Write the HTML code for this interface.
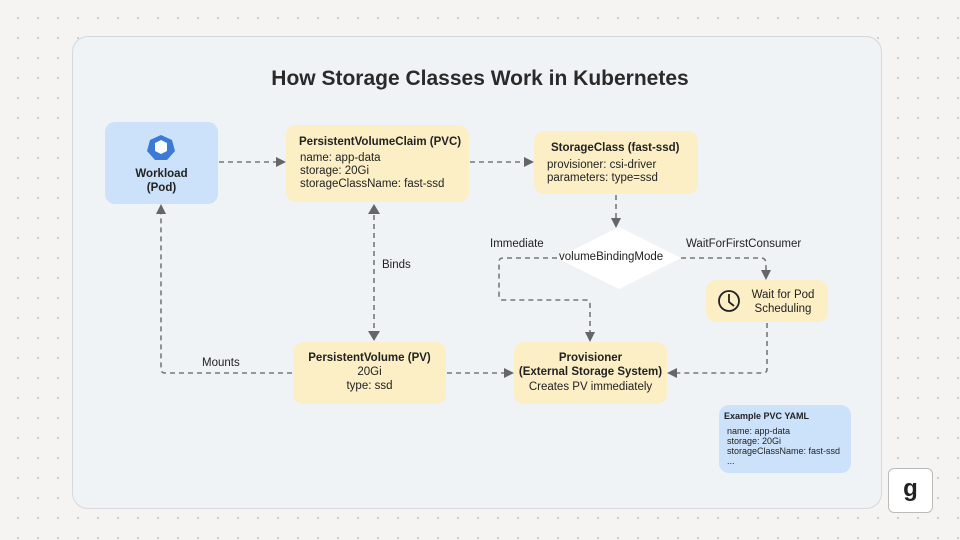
<!DOCTYPE html>
<html><head><meta charset="utf-8"><style>
body{margin:0;width:960px;height:540px;overflow:hidden;background:#f5f4f2;font-family:"Liberation Sans",sans-serif;
background-image:radial-gradient(circle,#cfcbc6 1px,transparent 1.3px);background-size:20px 20px;background-position:8px 8px}
.panel{position:absolute;left:72px;top:36px;width:808px;height:471px;border-radius:16px;background:#f0f3f6;border:1px solid #d5d8dc}
.n{position:absolute;border-radius:10px;background:#fcefc6;font-size:11.5px;color:#222;box-sizing:border-box}
.b{font-weight:bold}
.t{position:absolute;font-size:11.5px;color:#222}
</style></head><body>
<div class="panel"></div>
<div style="position:absolute;left:0;width:960px;top:67px;text-align:center;font-size:21px;font-weight:bold;color:#2a2a2a">How Storage Classes Work in Kubernetes</div>
<svg width="960" height="540" style="position:absolute;left:0;top:0">
<defs><marker id="a" markerWidth="10" markerHeight="10" refX="8" refY="5" orient="auto" markerUnits="userSpaceOnUse"><path d="M0,0 L10,5 L0,10z" fill="#666"/></marker></defs>
<g stroke="#777" stroke-width="1.6" stroke-dasharray="5,4" fill="none">
<path d="M219,162 H284" marker-end="url(#a)"/>
<path d="M470,162 H532" marker-end="url(#a)"/>
<path d="M616,195 V226" marker-end="url(#a)"/>
<path d="M557,258 H503 Q499,258 499,262 V296 Q499,300 503,300 H586 Q590,300 590,304 V340" marker-end="url(#a)"/>
<path d="M681,258 H761 Q766,258 766,264 V278" marker-end="url(#a)"/>
<path d="M767,323 V369 Q767,373 763,373 H669" marker-end="url(#a)"/>
<path d="M447,373 H512" marker-end="url(#a)"/>
<path d="M374,215 V330"/>
<path d="M292,373 H165 Q161,373 161,369 V206" marker-end="url(#a)"/>
</g>
<path d="M368,214 L374,204 L380,214z M368,331 L374,341 L380,331z" fill="#666"/>
<polygon points="619,227 681,258 619,289 557,258" fill="#fff"/>
</svg>
<div class="n" style="left:105px;top:122px;width:113px;height:82px;background:#cce2fa;text-align:center;padding-top:45px;line-height:14px" ><span class="b">Workload<br>(Pod)</span></div>
<div class="n" style="left:286px;top:125px;width:183px;height:77px;padding:11px 0 0 13px;line-height:13px"><div class="b" style="margin-bottom:3px">PersistentVolumeClaim (PVC)</div><div style="padding-left:1px">name: app-data<br>storage: 20Gi<br>storageClassName: fast-ssd</div></div>
<div class="n" style="left:534px;top:131px;width:164px;height:63px;padding:11px 0 0 13px;line-height:13px"><div class="b" style="margin-bottom:4px;padding-left:4px">StorageClass (fast-ssd)</div>provisioner: csi-driver<br>parameters: type=ssd</div>
<div class="t" style="left:559px;top:251px">volumeBindingMode</div>
<div class="t" style="left:490px;top:238px">Immediate</div>
<div class="t" style="left:686px;top:238px">WaitForFirstConsumer</div>
<div class="t" style="left:382px;top:259px">Binds</div>
<div class="t" style="left:202px;top:357px">Mounts</div>
<div class="n" style="left:706px;top:280px;width:122px;height:42px;padding:8px 0 0 32px;line-height:14px;text-align:center">Wait for Pod<br>Scheduling</div>
<div class="n" style="left:293px;top:342px;width:153px;height:62px;text-align:center;padding-top:9px;line-height:14px"><span class="b">PersistentVolume (PV)</span><br>20Gi<br>type: ssd</div>
<div class="n" style="left:514px;top:342px;width:153px;height:62px;text-align:center;padding-top:9px;line-height:14px"><span class="b">Provisioner<br>(External Storage System)</span><br><span style="line-height:17px">Creates PV immediately</span></div>
<div class="n" style="left:719px;top:405px;width:132px;height:68px;background:#cce2fa;font-size:9px;padding:6px 0 0 5px;line-height:10px"><div class="b" style="margin-bottom:5px">Example PVC YAML</div><div style="padding-left:3px">name: app-data<br>storage: 20Gi<br>storageClassName: fast-ssd<br>...</div></div>
<svg width="960" height="540" style="position:absolute;left:0;top:0">
<polygon points="161,135 172,140 175,151 167,160 155,160 147,151 150,140" fill="#3c7ad8"/>
<path d="M155,143 L161,140 L167,143 L167,151 L161,154 L155,151z" fill="#fff"/>
<circle cx="729" cy="301" r="10" fill="none" stroke="#222" stroke-width="1.8"/>
<path d="M729,294 V302 L734,306" fill="none" stroke="#222" stroke-width="1.8"/>
</svg>
<div style="position:absolute;left:888px;top:468px;width:45px;height:45px;box-sizing:border-box;background:#fff;border:1px solid #bbb;border-radius:6px;text-align:center;font-size:24px;font-weight:bold;line-height:40px;color:#222">g</div>
</body></html>
